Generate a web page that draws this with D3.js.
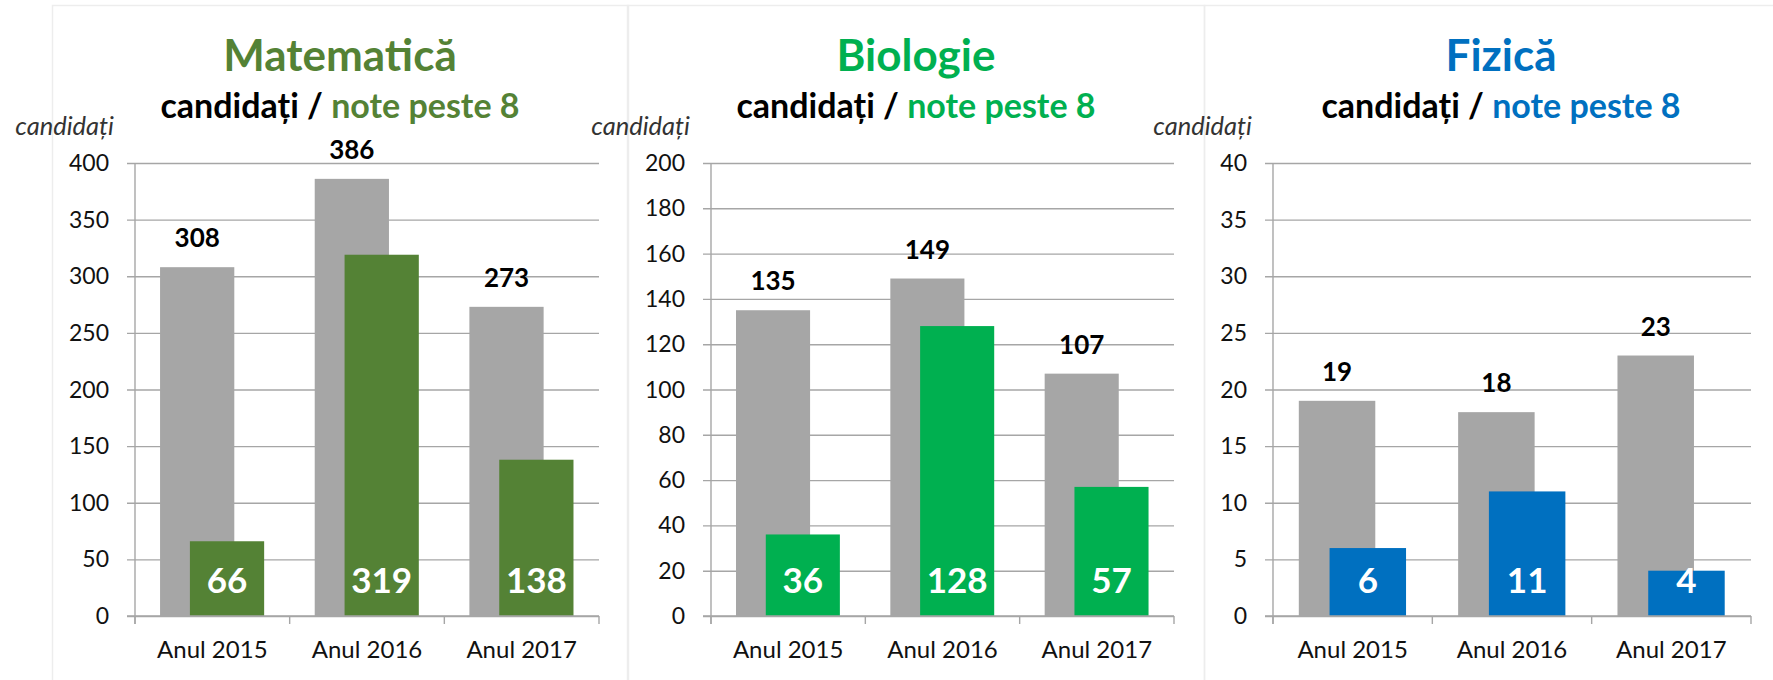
<!DOCTYPE html>
<html>
<head>
<meta charset="utf-8">
<script src="https://cdn.jsdelivr.net/npm/d3@7"></script>
<style>
  html, body { margin: 0; padding: 0; background: #fff; }
  svg { display: block; font-family: Lato, "Open Sans", sans-serif; }
</style>
</head>
<body>
<svg id="chart" width="1773" height="680"></svg>
<script>
// ---- data ----
const years = ["Anul 2015", "Anul 2016", "Anul 2017"];
const subjects = ["Matematică", "Biologie", "Fizică"];
const subjectColors = ["#548235", "#00B050", "#0070C0"];
const candidatesMat = [308, 386, 273];
const notesMat = [66, 319, 138];
const candidatesBio = [135, 149, 107];
const notesBio = [36, 128, 57];
const candidatesFiz = [19, 18, 23];
const notesFiz = [6, 11, 4];
const axisMax = [400, 200, 40];
const axisStep = [50, 20, 5];
const subtitleBlack = "candidați / ";
const subtitleColored = "note peste 8";
const yAxisTitle = "candidați";

const candidates = [candidatesMat, candidatesBio, candidatesFiz];
const notes = [notesMat, notesBio, notesFiz];

// ---- layout ----
const layout = [
  { left: 52, right: 628, x0: 135, x1: 599, titleX: 340 },
  { left: 627, right: 1204, x0: 711, x1: 1174, titleX: 916 },
  { left: 1204, right: 1800, x0: 1273, x1: 1751, titleX: 1501 }
];
const yTop = 163, yBase = 616;
const gridColor = "#a6a6a6";
const grayBar = "#a6a6a6";

const svg = d3.select("#chart");

subjects.forEach((name, i) => {
  const L = layout[i];
  const g = svg.append("g");

  // panel border
  g.append("rect")
    .attr("x", L.left + 0.5).attr("y", 5.5)
    .attr("width", L.right - L.left).attr("height", 700)
    .attr("fill", "none").attr("stroke", "#ededed").attr("stroke-width", 1.5);

  const x = d3.scaleBand().domain(years).range([L.x0, L.x1]).paddingInner(0).paddingOuter(0);
  const y = d3.scaleLinear().domain([0, axisMax[i]]).range([yBase, yTop]);
  const tickVals = d3.range(0, axisMax[i] + axisStep[i] / 2, axisStep[i]);
  const bw = x.bandwidth();

  // y gridlines + ticks via axis
  const yAxis = d3.axisLeft(y).tickValues(tickVals).tickSize(-(L.x1 - L.x0)).tickSizeOuter(0).tickPadding(0).tickFormat("");
  const ya = g.append("g").attr("transform", `translate(${L.x0},0)`).call(yAxis);
  ya.select(".domain").remove();
  ya.selectAll(".tick line")
    .attr("x1", -8)
    .attr("stroke", gridColor).attr("stroke-width", 1.4);

  // y tick labels
  g.selectAll(".ylab").data(tickVals).enter().append("text")
    .attr("x", L.x0 - 26)
    .attr("y", d => y(d) + 8)
    .attr("text-anchor", "end")
    .attr("font-size", 23)
    .attr("fill", "#111")
    .text(d => d);

  // y axis line
  g.append("line")
    .attr("x1", L.x0).attr("x2", L.x0).attr("y1", yTop).attr("y2", yBase + 8)
    .attr("stroke", gridColor).attr("stroke-width", 1.4);

  // bottom ticks at band boundaries
  const bounds = years.map(d => x(d)).concat([L.x1]);
  g.selectAll(".xtick").data(bounds).enter().append("line")
    .attr("x1", d => d).attr("x2", d => d)
    .attr("y1", yBase).attr("y2", yBase + 8)
    .attr("stroke", gridColor).attr("stroke-width", 1.4);

  // bars: candidates (gray)
  const grayOff = 0.162, barW = 0.48, colOff = 0.355;
  g.selectAll(".gbar").data(candidates[i]).enter().append("rect")
    .attr("x", (d, k) => x(years[k]) + grayOff * bw)
    .attr("width", barW * bw)
    .attr("y", d => y(d))
    .attr("height", d => yBase - y(d))
    .attr("fill", grayBar);

  // bars: notes (colored)
  g.selectAll(".cbar").data(notes[i]).enter().append("rect")
    .attr("x", (d, k) => x(years[k]) + colOff * bw)
    .attr("width", barW * bw)
    .attr("y", d => y(d))
    .attr("height", d => yBase - y(d))
    .attr("fill", subjectColors[i]);

  // redraw baseline over bars
  g.append("line")
    .attr("x1", L.x0 - 8).attr("x2", L.x1).attr("y1", yBase).attr("y2", yBase)
    .attr("stroke", gridColor).attr("stroke-width", 1.4);

  // gray value labels
  g.selectAll(".glab").data(candidates[i]).enter().append("text")
    .attr("x", (d, k) => x(years[k]) + (grayOff + barW / 2) * bw)
    .attr("y", d => y(d) - 20)
    .attr("text-anchor", "middle")
    .attr("font-size", 26).attr("font-weight", 700)
    .attr("fill", "#000")
    .text(d => d);

  // colored value labels (white inside)
  g.selectAll(".clab").data(notes[i]).enter().append("text")
    .attr("x", (d, k) => x(years[k]) + (colOff + barW / 2) * bw)
    .attr("y", yBase - 23)
    .attr("text-anchor", "middle")
    .attr("font-size", 35).attr("font-weight", 700)
    .attr("fill", "#fff")
    .text(d => d);

  // category labels
  g.selectAll(".xlab").data(years).enter().append("text")
    .attr("x", d => x(d) + bw / 2)
    .attr("y", 658)
    .attr("text-anchor", "middle")
    .attr("font-size", 24)
    .attr("fill", "#111")
    .text(d => d);

  // y axis title
  g.append("text")
    .attr("x", L.x0 - 21).attr("y", 135)
    .attr("text-anchor", "end")
    .attr("font-size", 25.5).attr("font-style", "italic")
    .attr("fill", "#333")
    .text(yAxisTitle);

  // title
  g.append("text")
    .attr("x", L.titleX).attr("y", 71)
    .attr("text-anchor", "middle")
    .attr("font-size", 44).attr("font-weight", 700)
    .attr("fill", subjectColors[i])
    .text(name);

  // subtitle
  const st = g.append("text")
    .attr("x", L.titleX).attr("y", 118)
    .attr("text-anchor", "middle")
    .attr("font-size", 34).attr("font-weight", 700);
  st.append("tspan").attr("fill", "#000").text(subtitleBlack);
  st.append("tspan").attr("fill", subjectColors[i]).text(subtitleColored);
});
</script>
</body>
</html>
